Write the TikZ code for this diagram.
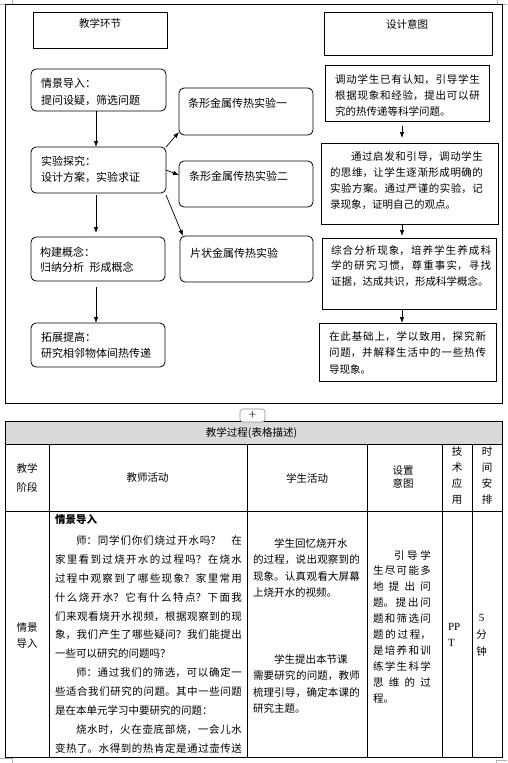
\documentclass[tikz,border=0pt]{standalone}
\usepackage{fontspec}
\setmainfont{Noto Sans CJK SC}
\newfontfamily\latfont{Liberation Serif}
\usetikzlibrary{arrows.meta}
\XeTeXlinebreaklocale "zh"
\XeTeXlinebreakskip=0pt plus 6pt
\tolerance=9999
\hbadness=10000
\begin{document}
\begin{tikzpicture}[x=1pt,y=-1pt,
  every node/.style={inner sep=0pt, outer sep=0pt},
  frame/.style={draw, line width=1pt},
  sqbox/.style={draw, line width=0.8pt, rectangle, inner sep=0pt},
  rndbox/.style={sqbox, rounded corners=5pt},
  arr/.style={line width=0.7pt, -{Latex[length=6pt,width=4.5pt]}},
  txt/.style={font=\fontsize{10.5}{16.5}\selectfont},
  big/.style={font=\fontsize{11}{16.5}\selectfont},
  para/.style={anchor=base west, align=justify},
  tline/.style={draw, line width=1pt},
  cmark/.style={draw=black!30, line width=0.6pt}
]
\fill[white] (0,0) rectangle (507,763);
\useasboundingbox (0,0) rectangle (507,763);

% corner marks
\draw[cmark] (0,4) -- (12,4) (12,0) -- (12,4);
\draw[cmark] (497,0) -- (497,4) (497,4) -- (507,4);
\draw[cmark] (0,758) -- (12,758) (12,758) -- (12,763);
\draw[cmark] (496,760) -- (507,760) (496,760) -- (496,763);

% outer frame of the flow chart
\draw[frame] (5,4) rectangle (502,403);

% header boxes
\node[sqbox, minimum width=134pt, minimum height=36pt] (hj) at (100,30) {};
\node[sqbox, minimum width=168pt, minimum height=43pt] (sj) at (408,33.5) {};
\node[txt] (hjt) at (100,23) {教学环节};
\node[txt] (sjt) at (407,24) {设计意图};

% left column
\node[rndbox, minimum width=135pt, minimum height=42pt] (qj) at (98.5,90) {};
\node[rndbox, minimum width=135pt, minimum height=46pt] (sy) at (98.5,170) {};
\node[rndbox, minimum width=134pt, minimum height=44pt] (gj) at (98,259) {};
\node[rndbox, minimum width=134pt, minimum height=44pt] (tz) at (98,345) {};
\node[big, para, text width=125pt, font=\fontsize{11}{17}\selectfont] (qjt) at (41,87.2) {情景导入：\\提问设疑，筛选问题};
\node[big, para, text width=125pt, font=\fontsize{11}{16}\selectfont] (syt) at (41,165.2) {实验探究：\\设计方案，实验求证};
\node[big, para, text width=125pt, font=\fontsize{11}{15.6}\selectfont] (gjt) at (40,256) {构建概念：\\归纳分析\hspace{0.5em}形成概念};
\node[big, para, text width=125pt, font=\fontsize{11}{16}\selectfont] (tzt) at (41,341.2) {拓展提高：\\研究相邻物体间热传递};

% experiment boxes
\node[rndbox, minimum width=134pt, minimum height=47pt] (e1) at (246,111.5) {};
\node[rndbox, minimum width=134pt, minimum height=46pt] (e2) at (246,184) {};
\node[rndbox, minimum width=133pt, minimum height=46pt] (e3) at (246.5,259) {};
\node[big, anchor=base west] (e1t) at (188,107.2) {条形金属传热实验一};
\node[big, anchor=base west] (e2t) at (189,180.2) {条形金属传热实验二};
\node[big, anchor=base west] (e3t) at (190,257.2) {片状金属传热实验};

% right column
\node[sqbox, minimum width=164pt, minimum height=56pt] (ra) at (407,93) {};
\node[sqbox, minimum width=177pt, minimum height=81pt] (rb) at (409.5,183.5) {};
\node[sqbox, minimum width=174pt, minimum height=71pt] (rc) at (409,273.5) {};
\node[sqbox, minimum width=177pt, minimum height=58pt] (rd) at (407.5,352) {};
\node[para, text width=145pt, font=\fontsize{10.5}{16.2}\selectfont] (rat) at (335,83.3)
  {调动学生已有认知，引导学生\break 根据现象和经验，提出可以研\break 究的热传递等科学问题。};
\node[para, text width=153pt, font=\fontsize{10.5}{16}\selectfont] (rbt) at (330,160)
  {\hspace*{2em}通过启发和引导，调动学生\break 的思维，让学生逐渐形成明确的\break 实验方案。通过严谨的实验，记\break 录现象，证明自己的观点。};
\node[para, text width=160pt, font=\fontsize{10.5}{15.7}\selectfont] (rct) at (331,254)
  {综合分析现象，培养学生养成科\break 学的研究习惯，尊重事实，寻找\break 证据，达成共识，形成科学概念。};
\node[para, text width=157pt, font=\fontsize{10.5}{16.8}\selectfont] (rdt) at (329,340)
  {在此基础上，学以致用，探究新\break 问题，并解释生活中的一些热传\break 导现象。};

% connectors
\coordinate (lx) at (96,0);
\coordinate (ax) at (402,0);
\draw[arr] (qj.south -| lx) -- (sy.north -| lx);
\draw[arr, shorten <=2pt, shorten >=4pt] (sy.south -| lx) -- (gj.north -| lx);
\draw[arr, shorten <=6pt] (gj.south -| lx) -- (tz.north -| lx);
\draw[arr] (sy.north east) -- ([yshift=3pt]e1.south west);
\draw[arr] (sy.east) -- ([yshift=9pt]e2.west);
\draw[arr] ([yshift=-2pt]sy.south east) -- ([xshift=3pt]e3.north west);
\draw[arr, shorten <=5pt, shorten >=5pt] (ra.south -| ax) -- (rb.north -| ax);
\draw[arr, shorten >=2pt] (rb.south -| ax) -- (rc.north -| ax);
\draw[arr] (rc.south -| ax) -- (rd.north -| ax);

% table
\fill[black!15] (5,421) rectangle (502,444);
\draw[tline] (5,421) rectangle (502,757);
\draw[tline] (5,444) -- (502,444) (5,511) -- (502,511);
\foreach \cx in {49,247,367,442,472} {\draw[tline] (\cx,444) -- (\cx,757);}
\node[draw=black!45, fill=white, rounded corners=3pt, line width=0.6pt,
      minimum width=25pt, minimum height=13pt] (plus) at (252.5,415.5)
      {\fontsize{13}{13}\selectfont\textcolor{black!70}{+}};

\node[txt] (head) at (251.5,433) {教学过程(表格描述)};
\node[txt, align=center, font=\fontsize{10.5}{19}\selectfont] (h1) at (27,478) {教学\\阶段};
\node[txt] (h2) at (147.5,478) {教师活动};
\node[txt] (h3) at (307,478) {学生活动};
\node[txt, align=center, font=\fontsize{10.5}{13.5}\selectfont] (h4) at (403,477) {设置\\意图};
\node[txt, align=center, font=\fontsize{10.5}{15.7}\selectfont] (h5) at (457,475.5) {技\\术\\应\\用};
\node[txt, align=center, font=\fontsize{10.5}{15.7}\selectfont] (h6) at (487,475.5) {时\\间\\安\\排};

\node[txt, align=center, font=\fontsize{10.5}{16}\selectfont] (b1) at (27,635) {情景\\导入};

\node[txt, anchor=base west] (tt1) at (55,523) {\bfseries 情景导入};
\node[para, text width=187pt, font=\fontsize{10.5}{18.85}\selectfont] (tt2) at (55,544.7)
  {\hspace*{2em}师：同学们你们烧过开水吗？\hspace{1em}在\break 家里看到过烧开水的过程吗？在烧水\break 过程中观察到了哪些现象？家里常用\break 什么烧开水？它有什么特点？下面我\break 们来观看烧开水视频，根据观察到的现\break 象，我们产生了哪些疑问？我们能提出\break 一些可以研究的问题吗？\par
   \hspace*{2em}师：通过我们的筛选，可以确定一\break 些适合我们研究的问题。其中一些问题\break 是在本单元学习中要研究的问题：\par
   {\parfillskip=0pt \hspace*{2em}烧水时，火在壶底部烧，一会儿水\break 变热了。水得到的热肯定是通过壶传送\par}};

\node[para, text width=107pt, font=\fontsize{10.5}{16.5}\selectfont] (st1) at (253,547)
  {\hspace*{2em}学生回忆烧开水\\的过程，说出观察到的\break 现象。认真观看大屏幕\break 上烧开水的视频。};
\node[para, text width=107pt, font=\fontsize{10.5}{16.6}\selectfont] (st2) at (253,663)
  {\hspace*{2em}学生提出本节课\\需要研究的问题，教师\break 梳理引导，确定本课的\break 研究主题。};

\node[para, text width=58pt, font=\fontsize{10.5}{15.9}\selectfont] (yt) at (373,559)
  {\hspace*{2em}引导学\break 生尽可能多\break 地提出问\break 题。提出问\break 题和筛选问\break 题的过程，\break 是培养和训\break 练学生科学\break 思维的过\break 程。};

\node[anchor=west, font=\latfont\fontsize{11}{13}\selectfont] (pp1) at (448,627) {PP};
\node[anchor=west, font=\latfont\fontsize{11}{13}\selectfont] (pp2) at (448,643) {T};
\node[font=\latfont\fontsize{11}{13}\selectfont] (tm1) at (481.5,618) {5};
\node[txt] (tm2) at (481.5,635) {分};
\node[txt] (tm3) at (481.5,652) {钟};
\end{tikzpicture}
\end{document}
